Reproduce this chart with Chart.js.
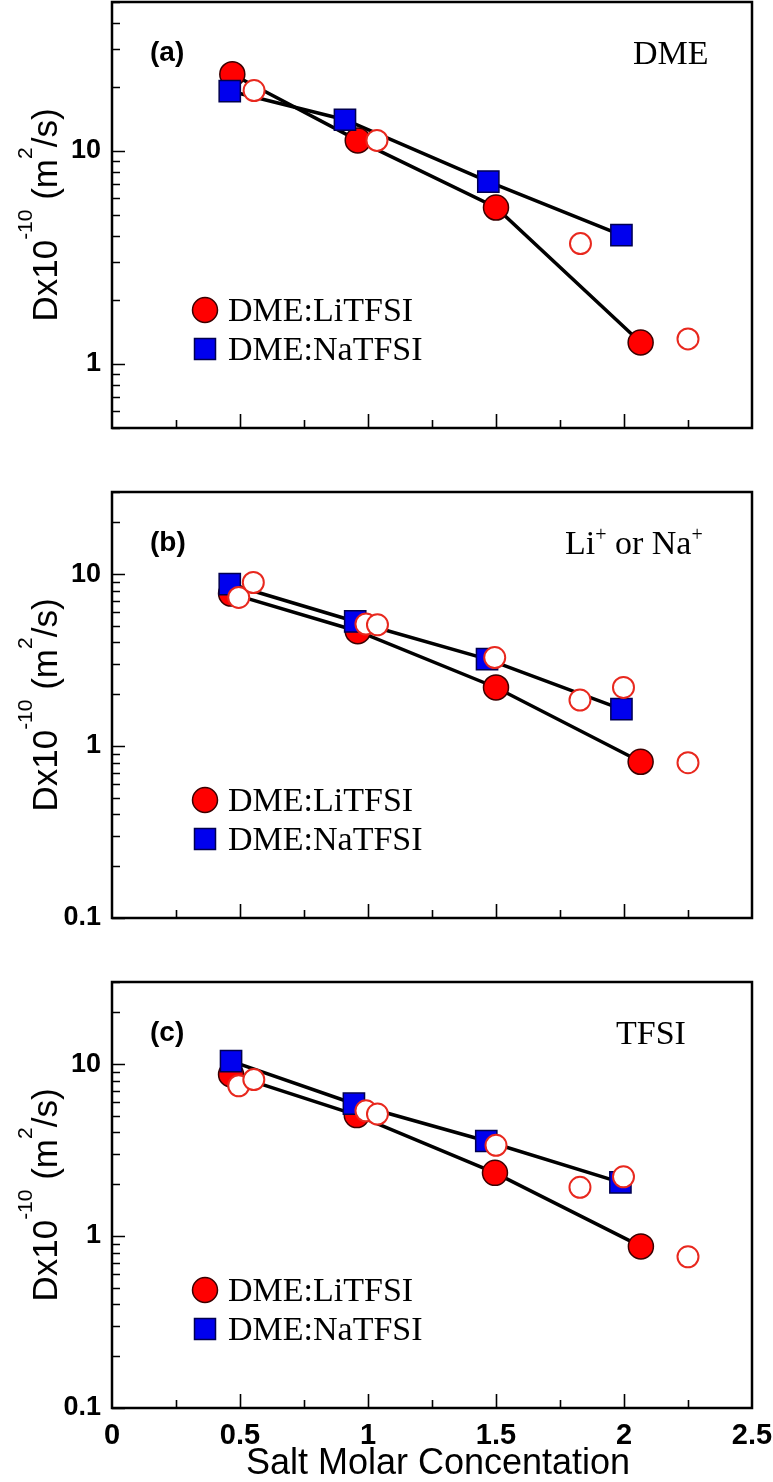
<!DOCTYPE html>
<html>
<head>
<meta charset="utf-8">
<script src="https://cdn.jsdelivr.net/npm/chart.js@4.4.0/dist/chart.umd.min.js"></script>
<style>
  body { margin: 0; background: #fff; }
  .panel { position: absolute; left: 0; width: 773px; }
</style>
</head>
<body>
<div class="panel" style="top:0;height:470px"><canvas id="chartA"></canvas></div>
<div class="panel" style="top:470px;height:470px"><canvas id="chartB"></canvas></div>
<div class="panel" style="top:940px;height:542px"><canvas id="chartC"></canvas></div>
<script>
// ---- values (D in 1e-10 m2/s vs salt molar concentration) ----

// (a) DME
const liConcA = [0.47, 0.96, 1.50, 2.065];
const liDiffA = [22.9, 11.2, 5.42, 1.26];
const naConcA = [0.46, 0.91, 1.47, 1.99];
const naDiffA = [19.1, 14.0, 7.18, 4.02];
const openConcA = [0.555, 1.035, 1.83, 2.25];
const openDiffA = [19.2, 11.2, 3.67, 1.31];

// (b) Li+ or Na+
const liConcB = [0.465, 0.96, 1.50, 2.065];
const liDiffB = [7.7, 4.65, 2.19, 0.81];
const naConcB = [0.46, 0.95, 1.465, 1.99];
const naDiffB = [8.75, 5.3, 3.2, 1.64];
const openConcB = [0.495, 0.552, 0.992, 1.037, 1.495, 1.828, 1.998, 2.25];
const openDiffB = [7.31, 8.93, 5.12, 5.07, 3.27, 1.85, 2.19, 0.80];

// (c) TFSI
const liConcC = [0.465, 0.956, 1.496, 2.066];
const liDiffC = [8.7, 5.05, 2.33, 0.87];
const naConcC = [0.465, 0.945, 1.462, 1.986];
const naDiffC = [10.4, 5.88, 3.57, 2.05];
const openConcC = [0.495, 0.554, 0.992, 1.037, 1.50, 1.828, 1.998, 2.25];
const openDiffC = [7.47, 8.12, 5.35, 5.12, 3.37, 1.92, 2.21, 0.757];

// tick labels
const xTickLabels = [0, 0.5, 1, 1.5, 2, 2.5];
const yTickLabelsA = [1, 10];
const yTickLabelsBC = [0.1, 1, 10];

const legendNames = ['DME:LiTFSI', 'DME:NaTFSI'];

const SANS = 'Liberation Sans, Arial, Helvetica, sans-serif';
const SERIF = 'Liberation Serif, Times New Roman, serif';

function series(xs, ys) {
    return xs.map((x, i) => ({ x: x, y: ys[i] }));
}

// draw a run of text pieces, some of them superscript, starting at x (baseline y)
function drawRich(ctx, parts, x, y, size, supSize, raise, family) {
    let cx = x;
    parts.forEach(p => {
        ctx.font = (p.sup ? supSize : size) + 'px ' + family;
        ctx.fillText(p.t, cx, p.sup ? y - raise : y);
        cx += ctx.measureText(p.t).width;
    });
}
function richWidth(ctx, parts, size, supSize, family) {
    let w = 0;
    parts.forEach(p => {
        ctx.font = (p.sup ? supSize : size) + 'px ' + family;
        w += ctx.measureText(p.t).width;
    });
    return w;
}

const yTitle = [
    { t: 'Dx10' }, { t: '-10', sup: true }, { t: ' (m' }, { t: '2', sup: true }, { t: '/s)' }
];

// frame, inward ticks and all the text that sits inside a panel
const decorPlugin = {
    id: 'decor',
    beforeDatasetsDraw(chart, args, opts) {
        const ctx = chart.ctx;
        const a = chart.chartArea;
        const xs = chart.scales.x, ys = chart.scales.y;
        ctx.save();
        ctx.strokeStyle = '#000';
        ctx.lineWidth = 1.6;
        ctx.beginPath();
        // log ticks on the left edge
        const e0 = Math.floor(Math.log10(ys.min)), e1 = Math.ceil(Math.log10(ys.max));
        for (let e = e0; e <= e1; e++) {
            for (let k = 1; k <= 9; k++) {
                const v = k * Math.pow(10, e);
                if (v < ys.min * 0.999 || v > ys.max * 1.001) continue;
                const py = Math.round(ys.getPixelForValue(v)) + 0.5;
                ctx.moveTo(a.left, py);
                ctx.lineTo(a.left + (k === 1 ? 13 : 8), py);
            }
        }
        // ticks every 0.25 on the bottom edge
        for (let i = 1; i < 10; i++) {
            const px = Math.round(xs.getPixelForValue(i * 0.25)) + 0.5;
            ctx.moveTo(px, a.bottom);
            ctx.lineTo(px, a.bottom - (i % 2 === 0 ? 14 : 8));
        }
        ctx.stroke();
        ctx.lineWidth = 2.5;
        ctx.strokeRect(a.left, a.top, a.right - a.left, a.bottom - a.top);
        ctx.restore();
    },
    afterDraw(chart, args, opts) {
        const ctx = chart.ctx;
        const a = chart.chartArea;
        ctx.save();
        ctx.fillStyle = '#000';
        ctx.textBaseline = 'alphabetic';

        // panel letter
        ctx.font = 'bold 28px ' + SANS;
        ctx.fillText(opts.letter, 150, a.top + 59);

        // species name
        drawRich(ctx, opts.species, opts.speciesX, a.top + 62, 34, 20, 13, SERIF);

        // legend
        const lx = a.left + 93;
        const ly1 = a.top + 308, ly2 = a.top + 347;
        ctx.beginPath();
        ctx.arc(lx, ly1, 12.5, 0, Math.PI * 2);
        ctx.fillStyle = '#ff0000';
        ctx.fill();
        ctx.lineWidth = 1.5;
        ctx.strokeStyle = '#3a0000';
        ctx.stroke();
        ctx.fillStyle = '#0000ee';
        ctx.fillRect(lx - 10.5, ly2 - 10.5, 21, 21);
        ctx.strokeStyle = '#000050';
        ctx.strokeRect(lx - 10.5, ly2 - 10.5, 21, 21);
        ctx.fillStyle = '#000';
        ctx.font = '34px ' + SERIF;
        ctx.fillText(legendNames[0], lx + 23, ly1 + 11);
        ctx.fillText(legendNames[1], lx + 23, ly2 + 11);

        // y-axis title, rotated
        const cy = (a.top + a.bottom) / 2;
        ctx.translate(57, cy);
        ctx.rotate(-Math.PI / 2);
        const w = richWidth(ctx, yTitle, 35, 21, SANS);
        drawRich(ctx, yTitle, -w / 2, 0, 35, 21, 25, SANS);
        ctx.setTransform(1, 0, 0, 1, 0, 0);

        // x-axis title on the last panel
        if (opts.xTitle) {
            ctx.font = '36px ' + SANS;
            ctx.textAlign = 'center';
            ctx.fillText(opts.xTitle, (a.left + a.right) / 2 + 6, chart.height - 8);
        }
        ctx.restore();
    }
};

function makePanel(id, p) {
    const ctx = document.getElementById(id).getContext('2d');
    return new Chart(ctx, {
        type: 'scatter',
        data: {
            datasets: [
                {
                    label: 'LiTFSI line',
                    data: series(p.liConc, p.liDiff),
                    showLine: true, fill: false, tension: 0,
                    borderColor: '#000', borderWidth: 3.5,
                    pointRadius: 0, order: 10
                },
                {
                    label: 'NaTFSI line',
                    data: series(p.naConc, p.naDiff),
                    showLine: true, fill: false, tension: 0,
                    borderColor: '#000', borderWidth: 3.5,
                    pointRadius: 0, order: 9
                },
                {
                    label: legendNames[0],
                    data: series(p.liConc, p.liDiff),
                    pointStyle: 'circle', pointRadius: 12.5,
                    backgroundColor: '#ff0000', borderColor: '#3a0000', borderWidth: 1.5,
                    order: 3
                },
                {
                    label: legendNames[1],
                    data: series(p.naConc, p.naDiff),
                    pointStyle: 'rect', pointRadius: 15,
                    backgroundColor: '#0000ee', borderColor: '#000050', borderWidth: 1.5,
                    order: 2
                },
                {
                    label: 'open',
                    data: series(p.openConc, p.openDiff),
                    pointStyle: 'circle', pointRadius: 10.5,
                    backgroundColor: '#ffffff', borderColor: '#e8281e', borderWidth: 2,
                    order: 1
                }
            ]
        },
        options: {
            responsive: true,
            maintainAspectRatio: false,
            animation: false,
            events: [],
            layout: { autoPadding: false, padding: { top: p.top, right: 21, left: 0, bottom: 0 } },
            scales: {
                x: {
                    type: 'linear', min: 0, max: 2.5,
                    afterBuildTicks: s => { s.ticks = xTickLabels.map(v => ({ value: v })); },
                    afterFit: s => { s.height = p.xHeight; s.paddingLeft = 0; s.paddingRight = 0; },
                    grid: { display: false, drawTicks: false },
                    border: { display: false },
                    ticks: {
                        display: p.showX, padding: 11, maxRotation: 0, autoSkip: false,
                        color: '#000',
                        font: { family: SANS, size: 29, weight: 'bold' },
                        callback: v => String(v)
                    }
                },
                y: {
                    type: 'logarithmic', min: p.yMin, max: p.yMax,
                    afterBuildTicks: s => { s.ticks = p.yTicks.map(v => ({ value: v })); },
                    afterFit: s => { s.width = 112; s.paddingTop = 0; s.paddingBottom = 0; },
                    grid: { display: false, drawTicks: false },
                    border: { display: false },
                    ticks: {
                        padding: 11, color: '#000', autoSkip: false,
                        font: { family: SANS, size: 27, weight: 'bold' },
                        callback: v => String(v)
                    }
                }
            },
            plugins: {
                legend: { display: false },
                tooltip: { enabled: false },
                decor: {
                    letter: p.letter,
                    species: p.species,
                    speciesX: p.speciesX,
                    xTitle: p.xTitle
                }
            }
        },
        plugins: [decorPlugin]
    });
}

makePanel('chartA', {
    liConc: liConcA, liDiff: liDiffA, naConc: naConcA, naDiff: naDiffA,
    openConc: openConcA, openDiff: openDiffA,
    yMin: 0.5, yMax: 50, yTicks: yTickLabelsA,
    top: 2, xHeight: 42, showX: false,
    letter: '(a)', species: [{ t: 'DME' }], speciesX: 633
});
makePanel('chartB', {
    liConc: liConcB, liDiff: liDiffB, naConc: naConcB, naDiff: naDiffB,
    openConc: openConcB, openDiff: openDiffB,
    yMin: 0.1, yMax: 30, yTicks: yTickLabelsBC,
    top: 22, xHeight: 22, showX: false,
    letter: '(b)',
    species: [{ t: 'Li' }, { t: '+', sup: true }, { t: ' or Na' }, { t: '+', sup: true }],
    speciesX: 565
});
makePanel('chartC', {
    liConc: liConcC, liDiff: liDiffC, naConc: naConcC, naDiff: naDiffC,
    openConc: openConcC, openDiff: openDiffC,
    yMin: 0.1, yMax: 30, yTicks: yTickLabelsBC,
    top: 42, xHeight: 74, showX: true,
    letter: '(c)', species: [{ t: 'TFSI' }], speciesX: 616,
    xTitle: 'Salt Molar Concentation'
});
</script>
</body>
</html>
